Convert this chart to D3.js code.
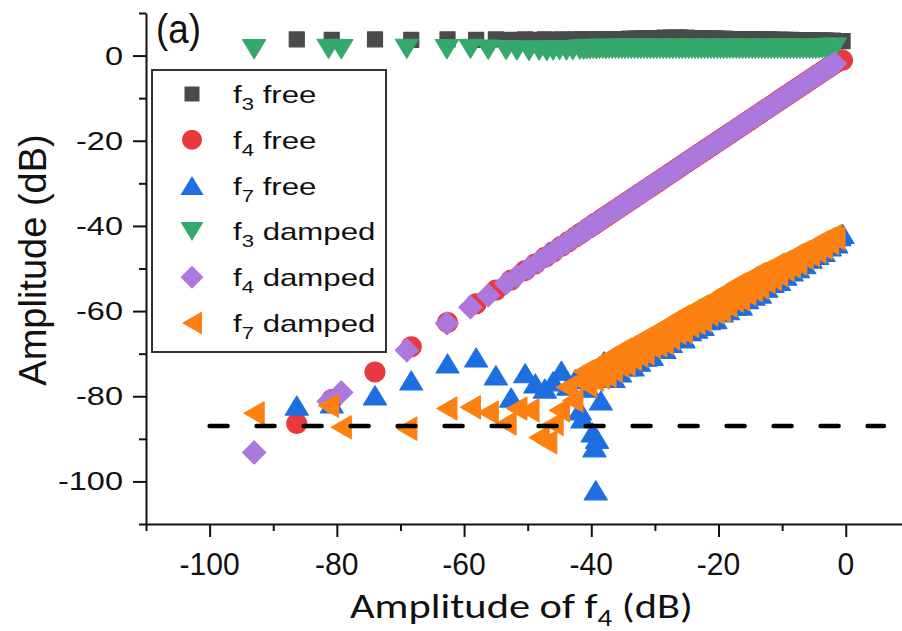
<!DOCTYPE html>
<html>
<head>
<meta charset="utf-8">
<script src="https://cdn.jsdelivr.net/npm/d3@7"></script>
<style>
  html, body { margin: 0; padding: 0; background: #fff; }
  svg { display: block; font-family: "Liberation Sans", Arial, Helvetica, sans-serif; }
</style>
</head>
<body>
<svg id="chart" width="902" height="631"></svg>
<script>
// ---- data: amplitudes in dB ----
// free oscillator: amplitude of f4 (x) and of f3 / f4 / f7 (y)
const freeX = [-86.3, -80.8, -74.0, -68.3, -62.6, -58.1, -55.0, -52.6, -50.4, -48.8, -47.3, -46.0,
  -44.7, -43.6, -42.5, -41.8, -41.4, -40.5, -39.8, -39.5, -39.3, -39.1, -38.5, -38.0,
  -37.5, -37.0, -36.5, -36.0, -35.5, -35.0, -34.5, -34.0, -33.5, -33.0, -32.5, -32.0, -31.5, -31.0, -30.5,
  -30.0, -29.5, -29.0, -28.5, -28.0, -27.5, -27.0, -26.5, -26.0, -25.5, -25.0, -24.5, -24.0, -23.5, -23.0,
  -22.5, -22.0, -21.5, -21.0, -20.5, -20.0, -19.5, -19.0, -18.5, -18.0, -17.5, -17.0, -16.5, -16.0, -15.5,
  -15.0, -14.5, -14.0, -13.5, -13.0, -12.5, -12.0, -11.5, -11.0, -10.5, -10.0, -9.5, -9.0, -8.5, -8.0,
  -7.5, -7.0, -6.5, -6.0, -5.5, -5.0, -4.5, -4.0, -3.5, -3.0, -2.5, -2.0, -1.5, -1.0, -0.5];
const f3FreeY = [3.8, 3.7, 3.8, 3.7, 3.8, 3.7, 3.8, 3.7, 3.8, 3.7, 3.8, 3.7,
  3.8, 3.7, 3.8, 3.7, 3.8, 3.7, 3.8, 3.7, 3.8, 3.7, 3.8, 3.7,
  3.8, 3.8, 3.9, 3.8, 3.9, 3.9, 3.9, 4.0, 3.9, 4.0, 4.0, 4.0, 4.1, 4.0, 4.1,
  4.1, 4.1, 4.1, 4.2, 4.1, 4.2, 4.1, 4.2, 4.2, 4.1, 4.2, 4.1, 4.1, 4.1, 4.1,
  4.0, 4.1, 4.0, 4.0, 4.0, 4.0, 3.9, 4.0, 3.9, 3.9, 3.9, 3.9, 3.9, 3.8, 3.9,
  3.8, 3.8, 3.8, 3.8, 3.8, 3.7, 3.8, 3.7, 3.7, 3.7, 3.7, 3.7, 3.6, 3.7, 3.6,
  3.6, 3.6, 3.6, 3.6, 3.5, 3.6, 3.5, 3.5, 3.5, 3.5, 3.4, 3.5, 3.4, 3.4, 3.4];
const f4FreeY = [-86.4, -80.8, -74.3, -68.4, -62.7, -58.3, -55.1, -52.7, -50.5, -48.9, -47.4, -46.1,
  -44.8, -43.7, -42.6, -41.9, -41.5, -40.6, -39.9, -39.6, -39.4, -39.2, -38.6, -38.1,
  -37.6, -37.1, -36.6, -36.1, -35.6, -35.1, -34.6, -34.1, -33.6, -33.1, -32.6, -32.1, -31.6, -31.1, -30.6,
  -30.1, -29.6, -29.1, -28.6, -28.1, -27.6, -27.1, -26.6, -26.1, -25.6, -25.1, -24.6, -24.1, -23.6, -23.1,
  -22.6, -22.1, -21.6, -21.1, -20.6, -20.1, -19.6, -19.1, -18.6, -18.1, -17.6, -17.1, -16.6, -16.1, -15.6,
  -15.1, -14.6, -14.1, -13.6, -13.1, -12.6, -12.1, -11.6, -11.1, -10.6, -10.1, -9.6, -9.1, -8.6, -8.1,
  -7.6, -7.1, -6.6, -6.1, -5.6, -5.1, -4.6, -4.1, -3.6, -3.1, -2.6, -2.1, -1.6, -1.2, -1.1];
const f7FreeY = [-82.2, -81.7, -79.8, -76.3, -72.3, -70.9, -75.1, -80.3, -74.6, -77.0, -78.2, -76.5,
  -74.0, -77.5, -76.0, -83.3, -85.2, -78.0, -88.5, -92.0, -102.1, -90.0, -81.0, -71.8,
  -75.7, -72.2, -75.7, -70.8, -74.4, -70.6, -73.0, -69.2, -73.0, -68.1, -71.9, -68.1, -70.7, -66.8, -70.5,
  -65.7, -68.8, -65.3, -68.9, -63.9, -67.5, -63.7, -66.3, -62.5, -66.4, -61.5, -64.7, -61.2, -64.1, -59.5,
  -63.5, -59.2, -62.1, -58.3, -61.9, -57.1, -60.3, -57.0, -59.8, -55.9, -58.8, -54.5, -58.7, -54.0, -57.2,
  -53.5, -56.4, -51.9, -55.9, -51.5, -54.5, -50.9, -53.4, -50.1, -52.9, -49.2, -51.7, -49.0, -50.7, -47.7,
  -49.9, -47.0, -49.0, -46.5, -47.7, -46.1, -46.8, -44.7, -46.1, -44.2, -44.8, -43.6, -44.1, -42.4, -41.9];

// damped oscillator: amplitude of f4 (x) and of f3 / f4 / f7 (y)
const dampedX = [-93.0, -81.3, -79.3, -69.0, -62.7, -59.0, -56.2, -53.4, -51.7, -49.8, -48.2, -47.0,
  -46.0, -45.0, -43.9, -42.9, -41.8,
  -41.2, -40.7, -40.2, -39.7, -39.2, -38.7, -38.2, -37.7, -37.2, -36.7,
  -36.2, -35.7, -35.2, -34.7, -34.2, -33.7, -33.2, -32.7, -32.2, -31.7,
  -31.2, -30.7, -30.2, -29.7, -29.2, -28.7, -28.2, -27.7, -27.2, -26.7,
  -26.2, -25.7, -25.2, -24.7, -24.2, -23.7, -23.2, -22.7, -22.2, -21.7,
  -21.2, -20.7, -20.2, -19.7, -19.2, -18.7, -18.2, -17.7, -17.2, -16.7,
  -16.2, -15.7, -15.2, -14.7, -14.2, -13.7, -13.2, -12.7, -12.2, -11.7,
  -11.2, -10.7, -10.2, -9.7, -9.2, -8.7, -8.2, -7.7, -7.2, -6.7,
  -6.2, -5.7, -5.2, -4.7, -4.2, -3.7, -3.2, -2.7, -2.2, -1.7];
const f3DampedY = [1.5, 1.6, 1.5, 1.6, 1.5, 1.6, 1.4, 1.3, 1.2, 1.1, 1.2, 1.1,
  1.2, 1.3, 1.2, 1.3, 1.4,
  1.4, 1.5, 1.5, 1.6, 1.5, 1.6, 1.6, 1.5, 1.6, 1.6,
  1.6, 1.6, 1.6, 1.6, 1.6, 1.6, 1.6, 1.6, 1.6, 1.6,
  1.6, 1.6, 1.6, 1.6, 1.6, 1.6, 1.6, 1.6, 1.6, 1.6,
  1.6, 1.6, 1.6, 1.6, 1.6, 1.6, 1.6, 1.6, 1.6, 1.6,
  1.6, 1.6, 1.6, 1.6, 1.6, 1.6, 1.6, 1.6, 1.6, 1.6,
  1.6, 1.6, 1.6, 1.6, 1.6, 1.6, 1.6, 1.6, 1.6, 1.6,
  1.6, 1.6, 1.6, 1.6, 1.6, 1.6, 1.6, 1.6, 1.6, 1.6,
  1.6, 1.6, 1.6, 1.6, 1.6, 1.7, 1.7, 1.7, 1.8, 1.9];
const f4DampedY = [-93.2, -81.2, -79.1, -69.2, -62.9, -59.1, -56.3, -53.5, -51.8, -49.9, -48.3, -47.1,
  -46.1, -45.1, -44.0, -43.0, -41.9,
  -41.3, -40.8, -40.3, -39.8, -39.3, -38.8, -38.3, -37.8, -37.3, -36.8,
  -36.3, -35.8, -35.3, -34.8, -34.3, -33.8, -33.3, -32.8, -32.3, -31.8,
  -31.3, -30.8, -30.3, -29.8, -29.3, -28.8, -28.3, -27.8, -27.3, -26.8,
  -26.3, -25.8, -25.3, -24.8, -24.3, -23.8, -23.3, -22.8, -22.3, -21.8,
  -21.3, -20.8, -20.3, -19.8, -19.3, -18.8, -18.3, -17.8, -17.3, -16.8,
  -16.3, -15.8, -15.3, -14.8, -14.3, -13.8, -13.3, -12.8, -12.3, -11.8,
  -11.3, -10.8, -10.3, -9.8, -9.3, -8.8, -8.3, -7.8, -7.3, -6.8,
  -6.3, -5.8, -5.3, -4.8, -4.3, -3.8, -3.3, -2.8, -2.3, -1.9];
const f7DampedY = [-84.0, -82.2, -87.3, -87.6, -82.9, -82.6, -83.8, -86.4, -82.9, -83.3, -89.7, -90.8,
  -86.5, -83.3, -77.9, -81.0, -76.3,
  -74.2, -77.5, -73.6, -76.1, -73.1, -75.6, -71.8, -75.2, -70.8, -74.0,
  -70.5, -72.8, -69.0, -72.5, -68.6, -71.2, -68.1, -70.4, -66.6, -69.9,
  -65.9, -68.4, -65.5, -68.0, -64.1, -67.5, -63.2, -66.4, -62.8, -65.1,
  -61.4, -64.9, -60.9, -63.5, -60.5, -62.8, -58.9, -62.2, -58.3, -60.8,
  -57.8, -60.3, -56.5, -59.9, -55.5, -58.7, -55.2, -57.5, -53.7, -57.2,
  -53.3, -55.9, -52.8, -55.1, -51.3, -54.5, -50.7, -53.1, -50.3, -52.4,
  -49.1, -51.5, -48.5, -50.3, -48.0, -49.5, -46.9, -48.8, -46.2, -47.5,
  -45.7, -46.8, -44.6, -46.0, -43.8, -45.1, -43.1, -44.0, -42.4, -42.9];

// axis ticks
const xTicks = [-100, -80, -60, -40, -20, 0];
const xMinorTicks = [-110, -90, -70, -50, -30, -10];
const yTicks = [0, -20, -40, -60, -80, -100];
const yMinorTicks = [10, -10, -30, -50, -70, -90, -110];

// noise-floor reference line
const noiseFloor = -87;
const noiseSpan = [-100, 6];

// legend entries (drawing order = list order)
const seriesFreq = ["3", "4", "7", "3", "4", "7"];
const seriesMode = ["free", "free", "free", "damped", "damped", "damped"];
const seriesColors = ["#4b4b4b", "#e9393f", "#1d6fe0", "#35a96b", "#ac78dc", "#fd8012"];
const seriesShapes = ["square", "circle", "triUp", "triDown", "diamond", "triLeft"];

// ---- chart ----
const svg = d3.select("#chart");

const x = d3.scaleLinear().domain([-110, 9]).range([146, 903]);
const y = d3.scaleLinear().domain([-110, 10]).range([524, 13]);

const shapePaths = {
  square: "M-7.5,-7.5H7.5V7.5H-7.5Z",
  circle: "M10,0A10,10 0 1,1 -10,0A10,10 0 1,1 10,0Z",
  triUp: "M0,-9.5L11.5,9.5L-11.5,9.5Z",
  triDown: "M0,9.5L11.5,-9.5L-11.5,-9.5Z",
  diamond: "M0,-11.5L11.5,0L0,11.5L-11.5,0Z",
  triLeft: "M-10,0L10,-11.5L10,11.5Z"
};

const seriesX = [freeX, freeX, freeX, dampedX, dampedX, dampedX];
const seriesY = [f3FreeY, f4FreeY, f7FreeY, f3DampedY, f4DampedY, f7DampedY];

const series = seriesFreq.map((f, i) => ({
  freq: f,
  mode: seriesMode[i],
  color: seriesColors[i],
  shape: seriesShapes[i],
  points: d3.zip(seriesX[i], seriesY[i])
}));

// markers
const plot = svg.append("g");
series.forEach(s => {
  plot.append("g")
    .selectAll("path")
    .data(s.points)
    .join("path")
    .attr("d", shapePaths[s.shape])
    .attr("transform", d => `translate(${x(d[0])},${y(d[1])})`)
    .attr("fill", s.color)
    .attr("stroke", s.color)
    .attr("stroke-width", 1.2)
    .attr("stroke-linejoin", "round");
});

// noise floor
svg.append("line")
  .attr("x1", x(noiseSpan[0])).attr("x2", x(noiseSpan[1]))
  .attr("y1", y(noiseFloor)).attr("y2", y(noiseFloor))
  .attr("stroke", "#000")
  .attr("stroke-width", 4.5)
  .attr("stroke-linecap", "round")
  .attr("stroke-dasharray", "18 29");

// axes
const axisStroke = g => {
  g.selectAll("path, line").attr("stroke", "#111").attr("stroke-width", 2);
  g.selectAll("text").remove();
};
svg.append("g")
  .attr("transform", `translate(0,${y(-110)})`)
  .call(d3.axisBottom(x).tickValues(xTicks).tickSize(13).tickSizeOuter(0))
  .call(axisStroke);
svg.append("g")
  .attr("transform", `translate(0,${y(-110)})`)
  .call(d3.axisBottom(x).tickValues(xMinorTicks).tickSize(7).tickSizeOuter(0))
  .call(g => g.select(".domain").remove())
  .call(axisStroke);
svg.append("g")
  .attr("transform", `translate(${x(-110)},0)`)
  .call(d3.axisLeft(y).tickValues(yTicks).tickSize(13).tickSizeOuter(0))
  .call(axisStroke);
svg.append("g")
  .attr("transform", `translate(${x(-110)},0)`)
  .call(d3.axisLeft(y).tickValues(yMinorTicks).tickSize(7).tickSizeOuter(0))
  .call(g => g.select(".domain").remove())
  .call(axisStroke);

// tick labels
svg.append("g").selectAll("text")
  .data(xTicks)
  .join("text")
  .attr("transform", d => `translate(${x(d)},575) scale(0.94,1)`)
  .attr("text-anchor", "middle")
  .attr("font-size", 32)
  .attr("fill", "#111")
  .text(d => String(d));

svg.append("g").selectAll("text")
  .data(yTicks)
  .join("text")
  .attr("transform", d => `translate(123,${y(d) + 9}) scale(1.3,1)`)
  .attr("text-anchor", "end")
  .attr("font-size", 25)
  .attr("fill", "#111")
  .text(d => String(d));

// axis titles
svg.append("text")
  .attr("transform", "translate(46,260) rotate(-90)")
  .attr("text-anchor", "middle")
  .attr("font-size", 38)
  .attr("fill", "#111")
  .text("Amplitude (dB)");

const xt = svg.append("text")
  .attr("font-family", "Carlito, 'Open Sans', 'Liberation Sans', sans-serif")
  .attr("font-size", 35)
  .attr("fill", "#111");
xt.append("tspan").text("Amplitude of f");
xt.append("tspan").attr("font-size", 24).attr("dy", 8).text("4");
xt.append("tspan").attr("dy", -8).text(" (dB)");
{
  const w = xt.node().getComputedTextLength();
  const sx = 343 / w;
  xt.attr("transform", `translate(350,618) scale(${sx},1)`);
}

// panel tag
svg.append("text")
  .attr("transform", "translate(156,43) scale(0.92,1)")
  .attr("font-size", 40)
  .attr("fill", "#111")
  .text("(a)");

// legend
const legend = svg.append("g");
legend.append("rect")
  .attr("x", 152).attr("y", 70).attr("width", 234).attr("height", 282)
  .attr("fill", "#fff").attr("stroke", "#333").attr("stroke-width", 2);
const rowY = i => 94 + i * 45.8;
series.forEach((s, i) => {
  legend.append("path")
    .attr("d", shapePaths[s.shape])
    .attr("transform", `translate(192,${rowY(i)})`)
    .attr("fill", s.color);
  const t = legend.append("text")
    .attr("transform", `translate(233,${rowY(i) + 9}) scale(1.3,1)`)
    .attr("font-size", 24)
    .attr("fill", "#111");
  t.append("tspan").text("f");
  t.append("tspan").attr("font-size", 17).attr("dy", 7).text(s.freq);
  t.append("tspan").attr("dy", -7).text(" " + s.mode);
});
</script>
</body>
</html>
